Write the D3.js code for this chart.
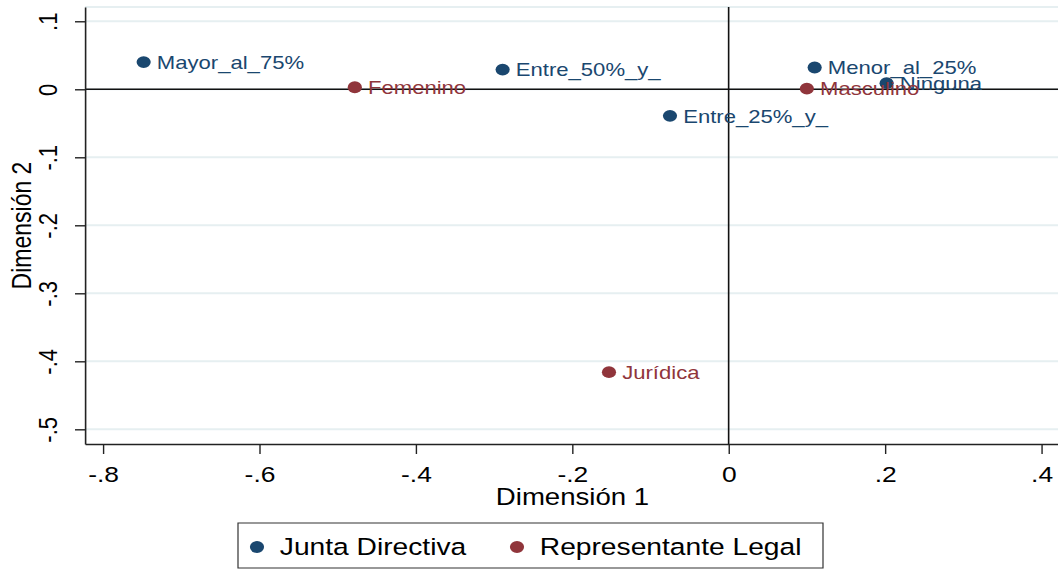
<!DOCTYPE html>
<html>
<head>
<meta charset="utf-8">
<script src="https://cdn.jsdelivr.net/npm/d3@7"></script>
<style>
  body { margin: 0; background: #fff; }
  svg { display: block; font-family: "Liberation Sans", Arial, sans-serif; }
</style>
</head>
<body>
<div id="chart"></div>
<script>
// series: Junta Directiva
const juntaLabels = ['Mayor_al_75%', 'Entre_50%_y_', 'Entre_25%_y_', 'Menor_al_25%', 'Ninguna'];
const juntaDim1 = [-0.748, -0.289, -0.075, 0.110, 0.202];
const juntaDim2 = [0.040, 0.029, -0.039, 0.032, 0.009];
// series: Representante Legal
const repLabels = ['Femenino', 'Masculino', 'Jurídica'];
const repDim1 = [-0.478, 0.100, -0.153];
const repDim2 = [0.003, 0.001, -0.416];

const seriesNames = ['Junta Directiva', 'Representante Legal'];
const seriesColors = ['#1a476f', '#90353b'];
const xTicks = [-0.8, -0.6, -0.4, -0.2, 0, 0.2, 0.4];
const yTicks = [0.1, 0, -0.1, -0.2, -0.3, -0.4, -0.5];
const xTitle = 'Dimensión 1';
const yTitle = 'Dimensión 2';

const width = 1058, height = 569;
const k = 1.2; // picture is stretched horizontally
const plot = {left: 85 / k, right: 1060 / k, top: 7, bottom: 444};

const fmt = d => d === 0 ? '0' : d.toFixed(1).replace(/^(-?)0\./, '$1.');

const svg = d3.select('#chart').append('svg')
    .attr('width', width).attr('height', height);
svg.append('rect').attr('width', width).attr('height', height).attr('fill', '#fff');

const g = svg.append('g').attr('transform', `scale(${k},1)`);

const x = d3.scaleLinear().domain([-0.823, 0.4237]).range([plot.left, plot.right]);
const y = d3.scaleLinear().domain([0.121, -0.5216]).range([plot.top, plot.bottom]);

// grid lines and top border
g.append('g').selectAll('line')
  .data(yTicks.concat([y.invert(plot.top)]))
  .join('line')
    .attr('x1', plot.left).attr('x2', plot.right + 20)
    .attr('y1', d => y(d)).attr('y2', d => y(d))
    .attr('stroke', '#e6eff1')
    .attr('stroke-width', 2);

// reference lines at 0
g.append('line')
    .attr('x1', plot.left).attr('x2', plot.right + 20)
    .attr('y1', y(0)).attr('y2', y(0))
    .attr('stroke', '#111').attr('stroke-width', 1.6)
    .attr('vector-effect', 'non-scaling-stroke');
g.append('line')
    .attr('x1', x(0)).attr('x2', x(0))
    .attr('y1', plot.top).attr('y2', plot.bottom)
    .attr('stroke', '#111').attr('stroke-width', 1.6)
    .attr('vector-effect', 'non-scaling-stroke');

// axes
const gx = g.append('g')
    .attr('transform', `translate(0,${plot.bottom})`)
    .call(d3.axisBottom(x).tickValues(xTicks).tickFormat(fmt).tickSize(10).tickSizeOuter(0));
gx.selectAll('text')
    .attr('y', 38).attr('dy', 0)
    .style('font-size', '22px').attr('fill', '#000');

const gy = g.append('g')
    .attr('transform', `translate(${plot.left},0)`)
    .call(d3.axisLeft(y).tickValues(yTicks).tickFormat(fmt).tickSize(10 / k).tickSizeOuter(0));
gy.selectAll('text')
    .attr('transform', 'rotate(-90)')
    .attr('x', 0).attr('y', -(85 - 57) / k).attr('dy', 0)
    .attr('text-anchor', 'middle')
    .style('font-size', '22px').attr('fill', '#000');

[gx, gy].forEach(a => {
  a.select('.domain').attr('stroke', '#222').attr('stroke-width', 1.6)
    .attr('vector-effect', 'non-scaling-stroke');
  a.selectAll('.tick line').attr('stroke', '#222').attr('stroke-width', 1.4)
    .attr('vector-effect', 'non-scaling-stroke');
});

// axis titles
g.append('text')
    .attr('x', (plot.left + plot.right) / 2).attr('y', 505)
    .attr('text-anchor', 'middle')
    .style('font-size', '23px')
    .text(xTitle);
g.append('text')
    .attr('transform', `translate(${31 / k},${(plot.top + plot.bottom) / 2}) rotate(-90)`)
    .attr('text-anchor', 'middle')
    .style('font-size', '23px')
    .text(yTitle);

// points
const series = [
  {labels: juntaLabels, d1: juntaDim1, d2: juntaDim2},
  {labels: repLabels, d1: repDim1, d2: repDim2}
];
series.forEach((s, si) => {
  const pts = s.labels.map((l, i) => ({label: l, d1: s.d1[i], d2: s.d2[i]}));
  const sg = g.append('g');
  sg.selectAll('circle')
    .data(pts)
    .join('circle')
      .attr('cx', d => x(d.d1)).attr('cy', d => y(d.d2))
      .attr('r', 5.9)
      .attr('fill', seriesColors[si]);
  sg.selectAll('text')
    .data(pts)
    .join('text')
      .attr('x', d => x(d.d1) + 11)
      .attr('y', d => y(d.d2))
      .attr('dy', '0.37em')
      .style('font-size', '18.4px')
      .attr('fill', seriesColors[si])
      .text(d => d.label);
});

// legend
const lg = g.append('g');
lg.append('rect')
    .attr('x', 238 / k).attr('y', 523)
    .attr('width', (823 - 238) / k).attr('height', 45)
    .attr('fill', '#fff').attr('stroke', '#333').attr('stroke-width', 1.2)
    .attr('vector-effect', 'non-scaling-stroke');
const keyX = [257 / k, 517 / k];
seriesNames.forEach((name, i) => {
  lg.append('circle')
    .attr('cx', keyX[i]).attr('cy', 547)
    .attr('r', 5.9).attr('fill', seriesColors[i]);
  lg.append('text')
    .attr('x', keyX[i] + 19).attr('y', 555)
    .style('font-size', '23.5px')
    .text(name);
});
</script>
</body>
</html>
